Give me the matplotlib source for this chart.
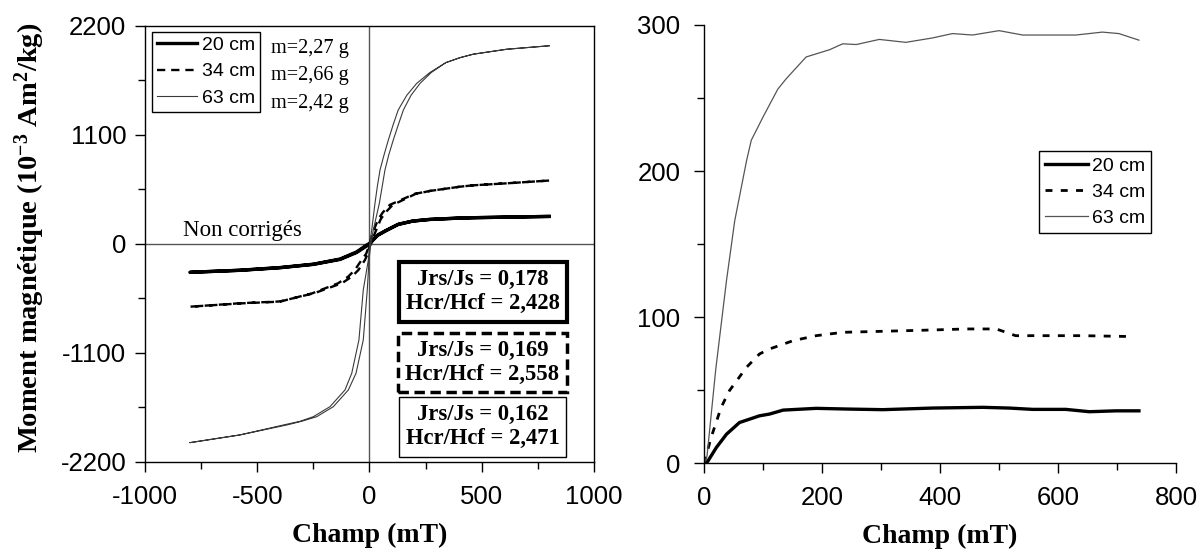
import matplotlib
matplotlib.use("Agg")
import matplotlib.pyplot as plt
from matplotlib.patches import Rectangle
from matplotlib.ticker import MultipleLocator

plt.rcParams["font.family"] = ["Liberation Sans", "DejaVu Sans"]
plt.rcParams["axes.unicode_minus"] = False
plt.rcParams["mathtext.fontset"] = "custom"
plt.rcParams["mathtext.rm"] = "Liberation Serif:bold"
plt.rcParams["mathtext.default"] = "rm"

# hysteresis loops (champ mT, moment 10^-3 Am2/kg)
h20_down = [800, 611, 462, 403, 269, 195, 130, 77, 40, 15, 0, -14, -57, -131, -250, -399, -577, -800]
m20_down = [278, 271, 265, 262, 248, 232, 200, 140, 95, 40, 5, -12, -80, -152, -204, -238, -265, -286]
h20_up = [-800, -577, -399, -250, -131, -57, -14, 0, 12, 35, 72, 125, 190, 265, 400, 462, 611, 800]
m20_up = [-286, -266, -240, -206, -156, -86, -22, -8, 30, 85, 132, 195, 230, 247, 261, 265, 271, 278]

h34_down = [800, 611, 462, 403, 269, 200, 136, 91, 60, 39, 17, 5, 0, -15, -35, -65, -95, -140,
            -255, -399, -577, -800]
m34_down = [640, 612, 592, 578, 535, 505, 440, 395, 320, 250, 130, 40, -10, -100, -161, -262,
            -330, -397, -498, -582, -600, -633]
h34_up = [-800, -577, -399, -245, -122, -79, -49, -20, -8, 0, 12, 28, 50, 72, 104, 146, 205, 269,
          403, 462, 611, 800]
m34_up = [-633, -598, -580, -496, -395, -330, -262, -161, -100, -30, 40, 130, 250, 320, 395, 440,
          505, 535, 578, 592, 612, 640]

h63_down = [800, 611, 462, 403, 340, 269, 210, 166, 128, 105, 84, 65, 47, 35, 24.5, 10, 0, -5,
            -27.6, -47, -79, -109, -176, -250, -310, -380, -577, -800]
m63_down = [2000, 1965, 1915, 1880, 1830, 1730, 1620, 1500, 1352, 1200, 1049, 900, 747, 580, 410,
            141, -20, -161, -464, -969, -1305, -1473, -1642, -1743, -1790, -1825, -1927, -2005]
h63_up = [-800, -577, -365, -300, -235, -161, -94, -60, -27.6, -9.8, -2, 6, 17, 44, 69, 86, 106,
          128, 151, 185, 225, 275, 340, 403, 462, 611, 800]
m63_up = [-2005, -1927, -1825, -1788, -1743, -1642, -1473, -1305, -969, -464, -161, 0, 141, 410,
          747, 900, 1049, 1200, 1352, 1500, 1620, 1730, 1830, 1880, 1915, 1965, 2000]

# right panel curves
h20_r = [4, 21, 38, 60, 94, 111, 134, 190, 246, 303, 387, 472, 517, 557, 613, 653, 698, 737]
m20_r = [0, 11, 20, 28, 32.6, 33.8, 36.5, 37.7, 37.2, 36.8, 37.9, 38.4, 37.9, 37, 37, 35.4, 36, 36]

h34_r = [0, 12, 29, 43, 72, 94, 111, 151, 190, 235, 303, 387, 444, 495, 512, 528, 585, 641, 726]
m34_r = [0, 17.8, 38.4, 49.8, 65.8, 74.9, 78.3, 84, 87.4, 89.7, 90.4, 91.3, 92, 92, 89.7, 87.4,
         87.4, 87.4, 86.8]

h63_r = [0, 5, 20, 38, 52, 72, 80, 100, 125, 139, 173, 213, 235, 258, 297, 342, 387, 421, 455, 500,
         540, 590, 630, 675, 703, 737]
m63_r = [0, 5, 65, 125, 166, 207, 221, 237, 256, 263, 278, 283, 287, 286.5, 290, 288, 291, 294,
         293, 296, 293, 293, 293, 295, 294, 289.5]

labels = ["20 cm", "34 cm", "63 cm"]
masses = ["m=2,27 g", "m=2,66 g", "m=2,42 g"]
ratios = ["Jrs/Js = 0,178\nHcr/Hcf = 2,428",
          "Jrs/Js = 0,169\nHcr/Hcf = 2,558",
          "Jrs/Js = 0,162\nHcr/Hcf = 2,471"]

s20 = dict(color="black", lw=2.4, ls="-")
s34 = dict(color="black", lw=1.7, ls=(0, (3.5, 2.5)))
s63 = dict(color="#3a3a3a", lw=0.8, ls="-")

serif = ["Liberation Serif", "DejaVu Serif"]

fig = plt.figure(figsize=(11.99, 5.56), dpi=100)
ax1 = fig.add_axes([0.1209, 0.1691, 0.3745, 0.7842])
ax2 = fig.add_axes([0.5872, 0.1664, 0.3937, 0.789])

# ---- left: hysteresis
ax1.axhline(0, color="#555555", lw=1, zorder=1)
ax1.axvline(0, color="#555555", lw=1, zorder=1)
l20, = ax1.plot(h20_down + h20_up, m20_down + m20_up, **s20)
l34, = ax1.plot(h34_down + h34_up, m34_down + m34_up, **s34)
l63, = ax1.plot(h63_down + h63_up, m63_down + m63_up, **s63)

ax1.set_xlim(-1000, 1000)
ax1.set_ylim(-2200, 2200)
ax1.set_xticks([-1000, -500, 0, 500, 1000])
ax1.set_yticks([-2200, -1100, 0, 1100, 2200])
ax1.xaxis.set_minor_locator(MultipleLocator(250))
ax1.yaxis.set_minor_locator(MultipleLocator(550))
ax1.tick_params(which="both", direction="out", top=False, right=False, labelsize=18.5, width=1)
ax1.tick_params(axis="y", which="both", pad=6)
ax1.tick_params(axis="x", which="both", pad=9)
ax1.tick_params(which="major", length=7.5)
ax1.tick_params(which="minor", length=5)

leg1 = ax1.legend([l20, l34, l63], labels, loc="upper left", bbox_to_anchor=(0.015, 0.987),
                  borderaxespad=0, fontsize=14, handlelength=2.1, handletextpad=0.25,
                  labelspacing=0.45, borderpad=0.25, fancybox=False, framealpha=1,
                  edgecolor="black")
leg1.get_frame().set_linewidth(1)
for y, m in zip([1975, 1705, 1420], masses):
    ax1.text(-440, y, m, family=serif, fontsize=14.6, va="center", ha="left")

ax1.text(-829, 140, "Non corrigés", family=serif, fontsize=16.5, va="center", ha="left")

boxes = [(130, -785, 752, 605, 3, "-"),
         (128, -1490, 750, 595, 2.5, (0, (3, 1.6))),
         (133, -2146, 742, 605, 1, "-")]
for (x0, y0, w, h, lw, ls), txt in zip(boxes, ratios):
    ax1.add_patch(Rectangle((x0, y0), w, h, fill=False, lw=lw, ls=ls, ec="black", zorder=4))
    ax1.text(x0 + w / 2, y0 + h / 2, txt, family=serif, weight="bold", fontsize=16.3,
             ha="center", va="center", linespacing=1.2, zorder=5)

ax1.set_xlabel("Champ (mT)", family=serif, weight="bold", fontsize=20, labelpad=10)
fig.text(0.025, 0.572, "Moment magnétique (10$^{-3}$ Am$^{2}$/kg)", family=serif,
         weight="bold", fontsize=20.5, rotation=90, ha="center", va="center")

# ---- right: IRM curves
r20, = ax2.plot(h20_r, m20_r, **s20)
r34, = ax2.plot(h34_r, m34_r, color="black", lw=2, ls=(0, (2.5, 3)))
r63, = ax2.plot(h63_r, m63_r, color="#555555", lw=0.9)
ax2.set_xlim(0, 800)
ax2.set_ylim(0, 300)
ax2.set_xticks([0, 200, 400, 600, 800])
ax2.set_yticks([0, 100, 200, 300])
ax2.xaxis.set_minor_locator(MultipleLocator(100))
ax2.yaxis.set_minor_locator(MultipleLocator(50))
ax2.spines["top"].set_visible(False)
ax2.spines["right"].set_visible(False)
ax2.tick_params(which="both", direction="out", labelsize=18.5, width=1)
ax2.tick_params(axis="y", which="both", pad=9.5)
ax2.tick_params(axis="x", which="both", pad=9)
ax2.tick_params(which="major", length=7.5)
ax2.tick_params(which="minor", length=5)
for ax in (ax1, ax2):
    for sp in ax.spines.values():
        sp.set_linewidth(1)

leg2 = ax2.legend([r20, r34, r63], labels, loc="upper right", bbox_to_anchor=(0.947, 0.712),
                  borderaxespad=0, fontsize=14, handlelength=2.2, handletextpad=0.2,
                  labelspacing=0.45, borderpad=0.3, fancybox=False, framealpha=1,
                  edgecolor="black")
leg2.get_frame().set_linewidth(1)
ax2.set_xlabel("Champ (mT)", family=serif, weight="bold", fontsize=20, labelpad=10)

fig.savefig("out.png", dpi=100)
